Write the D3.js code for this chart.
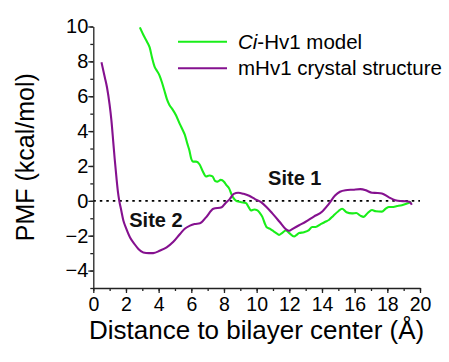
<!DOCTYPE html>
<html>
<head>
<meta charset="utf-8">
<script src="https://cdn.jsdelivr.net/npm/d3@7"></script>
<style>
  html, body { margin: 0; padding: 0; background: #fff; }
  svg { display: block; font-family: "Liberation Sans", Arial, sans-serif; }
</style>
</head>
<body>
<svg id="chart" width="449" height="362"></svg>
<script>
// PMF profiles along the permeation pathway: [distance (Å), PMF (kcal/mol)]
const ciHv1Model = [
  [2.85,9.95],[3.1,9.45],[3.3,9.1],[3.45,8.8],[3.6,8.2],[3.75,7.7],[3.9,7.45],[4.05,7.2],
  [4.2,6.8],[4.36,6.3],[4.5,5.85],[4.66,5.5],[4.85,5.25],[5.07,4.9],[5.3,4.4],[5.48,4.05],
  [5.6,3.8],[5.75,3.3],[5.88,2.9],[6.0,2.4],[6.1,2.25],[6.3,2.25],[6.5,2.1],[6.7,1.7],
  [6.9,1.4],[7.1,1.45],[7.3,1.4],[7.45,1.15],[7.61,1.1],[7.8,1.2],[8.0,1.1],[8.15,0.9],
  [8.32,0.7],[8.45,0.4],[8.55,0.2],[8.75,0.0],[8.93,-0.05],[9.15,-0.1],[9.34,-0.12],
  [9.5,-0.35],[9.65,-0.55],[9.85,-0.5],[10.05,-0.55],[10.2,-0.7],[10.35,-0.92],[10.5,-1.3],
  [10.6,-1.5],[10.8,-1.6],[10.96,-1.7],[11.2,-1.85],[11.37,-1.95],[11.55,-1.85],[11.78,-1.7],
  [12.0,-1.85],[12.29,-2.05],[12.45,-1.95],[12.6,-1.85],[12.9,-1.8],[13.2,-1.68],[13.4,-1.5],
  [13.61,-1.5],[13.9,-1.35],[14.2,-1.2],[14.42,-1.1],[14.7,-0.85],[15.0,-0.6],[15.23,-0.45],
  [15.5,-0.65],[15.84,-0.72],[16.1,-0.7],[16.35,-0.85],[16.55,-0.92],[16.8,-0.7],[17.06,-0.53],
  [17.3,-0.6],[17.67,-0.62],[17.9,-0.45],[18.1,-0.35],[18.28,-0.35],[18.6,-0.3],[18.89,-0.25],
  [19.2,-0.15],[19.46,-0.06]
];

const mHv1Crystal = [
  [0.5,7.95],[0.7,7.1],[0.84,6.5],[1.0,5.5],[1.11,4.6],[1.22,3.4],[1.31,2.4],[1.42,1.3],
  [1.51,0.5],[1.59,0.0],[1.7,-0.5],[1.84,-1.13],[2.0,-1.55],[2.25,-2.1],[2.5,-2.45],
  [2.76,-2.76],[3.06,-2.96],[3.4,-3.0],[3.67,-3.0],[4.1,-2.85],[4.49,-2.67],[4.9,-2.35],
  [5.31,-1.9],[5.6,-1.6],[5.92,-1.42],[6.2,-1.33],[6.53,-1.29],[6.9,-0.95],[7.35,-0.46],
  [7.86,-0.37],[8.1,-0.12],[8.35,0.1],[8.6,0.4],[8.87,0.46],[9.2,0.4],[9.54,0.29],[9.9,0.1],
  [10.25,-0.06],[10.6,-0.35],[10.96,-0.72],[11.4,-1.2],[11.78,-1.62],[12.0,-1.72],[12.18,-1.62],
  [12.6,-1.4],[13.0,-1.2],[13.5,-0.9],[14.0,-0.63],[14.4,-0.2],[14.8,0.3],[15.1,0.52],
  [15.44,0.61],[15.9,0.64],[16.35,0.67],[16.7,0.6],[17.06,0.46],[17.4,0.45],[17.67,0.42],
  [18.1,0.2],[18.49,0.04],[18.8,-0.01],[19.1,-0.02],[19.35,-0.05],[19.5,-0.22]
];

const seriesNames = ["Ci-Hv1 model", "mHv1 crystal structure"];
const seriesColors = ["#19ee19", "#85118f"];

const xMajorTicks = [0, 2, 4, 6, 8, 10, 12, 14, 16, 18, 20];
const xMinorTicks = d3.range(0, 21, 1);
const yMajorTicks = [-4, -2, 0, 2, 4, 6, 8, 10];
const yMinorTicks = d3.range(-5, 11, 1);

const siteLabels = [
  { text: "Site 1", x: 10.7, y: 0.88 },
  { text: "Site 2", x: 2.2, y: -1.48 }
];

const svg = d3.select("#chart");
const plotLeft = 93.3, plotRight = 420, plotTop = 26.5, plotBottom = 288;

const x = d3.scaleLinear().domain([0, 20]).range([plotLeft, plotRight]);
const y = d3.scaleLinear().domain([-5, 10]).range([plotBottom, plotTop]);

// zero reference line
svg.append("line")
  .attr("x1", x(0)).attr("x2", x(20))
  .attr("y1", y(0)).attr("y2", y(0))
  .attr("stroke", "#000").attr("stroke-width", 1.6)
  .attr("stroke-dasharray", "2.5,4");

// x axis: minor then major ticks
const xAxisG = svg.append("g").attr("transform", `translate(0,${plotBottom})`);
xAxisG.append("g")
  .call(d3.axisBottom(x).tickValues(xMinorTicks).tickSize(3).tickFormat(""))
  .call(g => g.select(".domain").remove());
xAxisG.append("g")
  .call(d3.axisBottom(x).tickValues(xMajorTicks).tickSize(5).tickSizeOuter(0).tickPadding(4))
  .call(g => g.selectAll("text").attr("font-size", 19.5).attr("fill", "#000")
    .attr("font-family", "Liberation Sans, Arial, sans-serif"));

// y axis
const yAxisG = svg.append("g").attr("transform", `translate(${plotLeft},0)`);
yAxisG.append("g")
  .call(d3.axisLeft(y).tickValues(yMinorTicks).tickSize(3).tickFormat(""))
  .call(g => g.select(".domain").remove());
yAxisG.append("g")
  .call(d3.axisLeft(y).tickValues(yMajorTicks).tickSize(5).tickSizeOuter(0).tickPadding(0))
  .call(g => g.selectAll("text").attr("font-size", 20).attr("fill", "#000")
    .attr("font-family", "Liberation Sans, Arial, sans-serif"));

svg.selectAll(".domain, .tick line").attr("stroke", "#222").attr("stroke-width", 1.3);

// PMF curves
const line = d3.line().x(d => x(d[0])).y(d => y(d[1])).curve(d3.curveMonotoneX);
[ciHv1Model, mHv1Crystal].forEach((data, i) => {
  svg.append("path")
    .datum(data)
    .attr("fill", "none")
    .attr("stroke", seriesColors[i])
    .attr("stroke-width", 2.1)
    .attr("stroke-linejoin", "round")
    .attr("d", line);
});

// site annotations
svg.selectAll(".site")
  .data(siteLabels)
  .enter().append("text")
  .attr("class", "site")
  .attr("x", d => x(d.x))
  .attr("y", d => y(d.y))
  .attr("font-size", 20)
  .attr("font-weight", "bold")
  .attr("fill", "#111")
  .text(d => d.text);

// legend
const legend = svg.append("g");
seriesNames.forEach((name, i) => {
  const ly = 41.7 + i * 26.6;
  legend.append("line")
    .attr("x1", 178).attr("x2", 227)
    .attr("y1", ly).attr("y2", ly)
    .attr("stroke", seriesColors[i]).attr("stroke-width", 2.1);
  const t = legend.append("text")
    .attr("x", 238).attr("y", ly + 7)
    .attr("font-size", 20.5).attr("fill", "#000");
  if (name.startsWith("Ci-")) {
    t.append("tspan").attr("font-style", "italic").text("Ci");
    t.append("tspan").text(name.slice(2));
  } else {
    t.text(name);
  }
});

// axis titles
svg.append("text")
  .attr("x", (plotLeft + plotRight) / 2)
  .attr("y", 339)
  .attr("text-anchor", "middle")
  .attr("font-size", 26)
  .attr("fill", "#000")
  .text("Distance to bilayer center (Å)");

svg.append("text")
  .attr("transform", `translate(34,${(plotTop + plotBottom) / 2}) rotate(-90)`)
  .attr("text-anchor", "middle")
  .attr("font-size", 25)
  .attr("fill", "#000")
  .text("PMF (kcal/mol)");
</script>
</body>
</html>
